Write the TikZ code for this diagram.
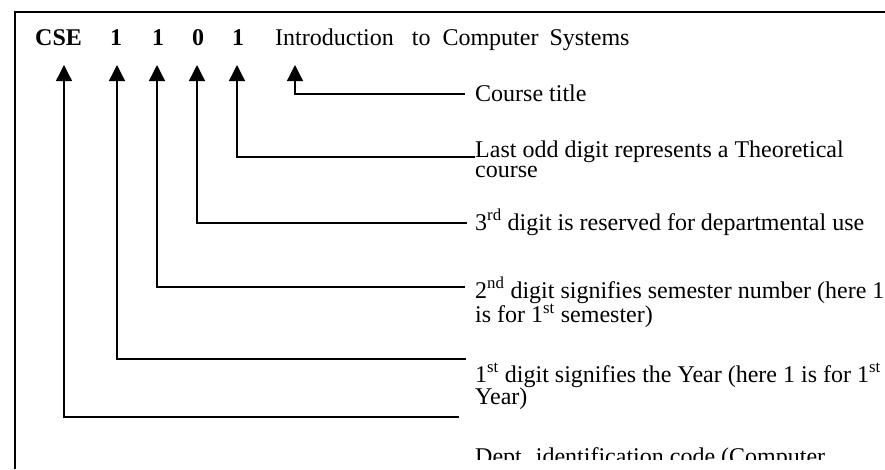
\documentclass[tikz,border=0pt]{standalone}
\usepackage{fontspec}
\setmainfont{Liberation Serif}
\usetikzlibrary{arrows.meta}
\begin{document}
\begin{tikzpicture}[x=1pt,y=-1pt,
  conn/.style={line width=1.3pt,-{Triangle[width=16pt,length=16pt]},line join=miter},
  frame/.style={line width=2pt},
  code/.style={anchor=base west,inner sep=0pt,font=\fontsize{24}{20}\selectfont\bfseries},
  desc/.style={anchor=base west,inner sep=0pt,font=\fontsize{24}{20}\selectfont},
]
\useasboundingbox (0,0) rectangle (885,469);
% frame (top and left edges visible)
\draw[frame] (15,469) -- (15,11.5) -- (885,11.5);

% course code row
\node[code] (cse) at (35,45) {CSE};
\node[code] (d1) at (110,45) {1};
\node[code] (d2) at (152,45) {1};
\node[code] (d3) at (192,45) {0};
\node[code] (d4) at (232,45) {1};
\node[desc] (title) at (275,45) {Introduction\hspace{18pt}to\hspace{12pt}Computer\hspace{11pt}Systems};

% arrow tips
\coordinate (t0) at (64,65);
\coordinate (t1) at (117,65);
\coordinate (t2) at (157,65);
\coordinate (t3) at (197,65);
\coordinate (t4) at (237,65);
\coordinate (t5) at (295,65);
% connector ends near the descriptions
\coordinate (e0) at (459,417);
\coordinate (e1) at (466,359);
\coordinate (e2) at (465,287);
\coordinate (e3) at (467,223);
\coordinate (e4) at (475,157);
\coordinate (e5) at (465,94);

% descriptions
\node[desc] (ct) at (475,101) {Course title};
\node[desc] (last) at (475,157) {\begin{tabular}[t]{@{}l@{}}Last odd digit represents a Theoretical\\course\end{tabular}};
\node[desc] (third) at (475,230) {3\textsuperscript{rd} digit is reserved for departmental use};
\node[desc] (second) at (475,298) {\begin{tabular}[t]{@{}l@{}}2\textsuperscript{nd} digit signifies semester number (here 1\\is for 1\textsuperscript{st} semester)\end{tabular}};
\node[desc] (first) at (475,382) {\begin{tabular}[t]{@{}l@{}}1\textsuperscript{st} digit signifies the Year (here 1 is for 1\textsuperscript{st}\\Year)\end{tabular}};
\begin{scope}
\clip (470,430) rectangle (885,459);
\node[desc] (dept) at (475,464) {Dept. identification code (Computer};
\end{scope}

% connectors
\draw[conn] (e5) -| (t5);
\draw[conn] (e4) -| (t4);
\draw[conn] (e3) -| (t3);
\draw[conn] (e2) -| (t2);
\draw[conn] (e1) -| (t1);
\draw[conn] (e0) -| (t0);
\end{tikzpicture}
\end{document}
